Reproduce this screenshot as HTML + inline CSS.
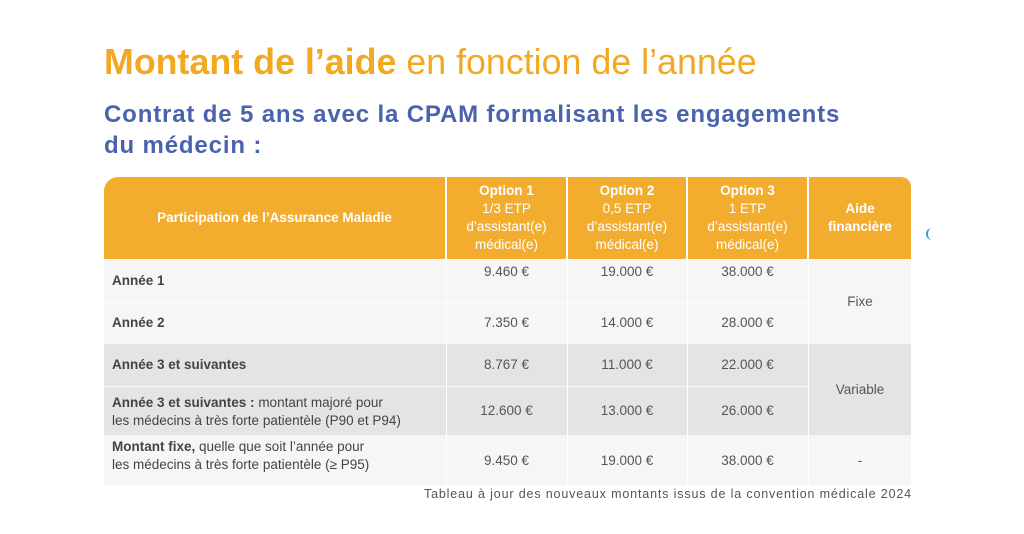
<!DOCTYPE html>
<html><head><meta charset="utf-8"><style>
body{margin:0;width:1024px;height:534px;background:#fff;font-family:"Liberation Sans",sans-serif;position:relative;overflow:hidden}
.a{position:absolute}
.h{background:#f2ad2f;color:#fff;text-align:center;font-size:13.5px;line-height:18px;display:flex;align-items:center;justify-content:center;flex-direction:column}
.c{color:#555;font-size:13.5px;text-align:center}
.l{color:#444;font-size:13.5px;padding-left:8px}
</style></head><body>
<div class="a" style="left:104px;top:42px;font-size:35.8px;color:#f3a822;white-space:nowrap"><b>Montant de l’aide</b> en fonction de l’année</div>
<div class="a" style="left:104px;top:99px;font-size:24px;letter-spacing:0.85px;line-height:31px;color:#4a63ad;font-weight:bold;width:800px">Contrat de 5 ans avec la CPAM formalisant les engagements<br>du médecin :</div>

<div class="a h" style="left:104px;top:177px;width:341px;height:82px;border-top-left-radius:14px"><b>Participation de l’Assurance Maladie</b></div>
<div class="a h" style="left:447px;top:177px;width:119px;height:82px"><b>Option 1</b>1/3 ETP<br>d’assistant(e)<br>médical(e)</div>
<div class="a h" style="left:568px;top:177px;width:118px;height:82px"><b>Option 2</b>0,5 ETP<br>d’assistant(e)<br>médical(e)</div>
<div class="a h" style="left:688px;top:177px;width:119px;height:82px"><b>Option 3</b>1 ETP<br>d’assistant(e)<br>médical(e)</div>
<div class="a h" style="left:809px;top:177px;width:102px;height:82px;border-top-right-radius:10px"><b>Aide<br>financière</b></div>

<div class="a" style="left:104px;top:259px;width:807px;height:85px;background:#f6f6f6"></div>
<div class="a" style="left:104px;top:344px;width:807px;height:91px;background:#e4e4e6"></div>
<div class="a" style="left:104px;top:435px;width:807px;height:50px;background:#f6f6f6"></div>
<div class="a" style="left:104px;top:302px;width:704px;height:1px;background:#fff"></div>
<div class="a" style="left:104px;top:386px;width:704px;height:1px;background:#f6f6f6"></div>
<div class="a" style="left:446px;top:177px;width:1px;height:308px;background:#fff"></div>
<div class="a" style="left:567px;top:177px;width:1px;height:308px;background:#fff"></div>
<div class="a" style="left:687px;top:177px;width:1px;height:308px;background:#fff"></div>
<div class="a" style="left:808px;top:177px;width:1px;height:308px;background:#fff"></div>

<div class="a l" style="left:104px;top:273px"><b>Année 1</b></div>
<div class="a l" style="left:104px;top:315px"><b>Année 2</b></div>
<div class="a l" style="left:104px;top:357px"><b>Année 3 et suivantes</b></div>
<div class="a l" style="left:104px;top:394px;line-height:18px"><b>Année 3 et suivantes :</b> montant majoré pour<br>les médecins à très forte patientèle (P90 et P94)</div>
<div class="a l" style="left:104px;top:438px;line-height:18px"><b>Montant fixe,</b> quelle que soit l’année pour<br>les médecins à très forte patientèle (≥ P95)</div>

<div class="a c" style="left:447px;top:264px;width:119px">9.460 €</div>
<div class="a c" style="left:568px;top:264px;width:118px">19.000 €</div>
<div class="a c" style="left:688px;top:264px;width:119px">38.000 €</div>
<div class="a c" style="left:447px;top:315px;width:119px">7.350 €</div>
<div class="a c" style="left:568px;top:315px;width:118px">14.000 €</div>
<div class="a c" style="left:688px;top:315px;width:119px">28.000 €</div>
<div class="a c" style="left:447px;top:357px;width:119px">8.767 €</div>
<div class="a c" style="left:568px;top:357px;width:118px">11.000 €</div>
<div class="a c" style="left:688px;top:357px;width:119px">22.000 €</div>
<div class="a c" style="left:447px;top:403px;width:119px">12.600 €</div>
<div class="a c" style="left:568px;top:403px;width:118px">13.000 €</div>
<div class="a c" style="left:688px;top:403px;width:119px">26.000 €</div>
<div class="a c" style="left:447px;top:453px;width:119px">9.450 €</div>
<div class="a c" style="left:568px;top:453px;width:118px">19.000 €</div>
<div class="a c" style="left:688px;top:453px;width:119px">38.000 €</div>
<div class="a c" style="left:809px;top:294px;width:102px">Fixe</div>
<div class="a c" style="left:809px;top:382px;width:102px">Variable</div>
<div class="a c" style="left:809px;top:453px;width:102px">-</div>

<div class="a" style="left:380px;top:487px;width:532px;text-align:right;font-size:12.5px;letter-spacing:0.85px;color:#555;white-space:nowrap">Tableau à jour des nouveaux montants issus de la convention médicale 2024</div>
<div class="a" style="left:926px;top:228px;width:5px;height:12px;border-left:2px solid #2a9be0;border-radius:6px 0 0 6px"></div>
</body></html>
